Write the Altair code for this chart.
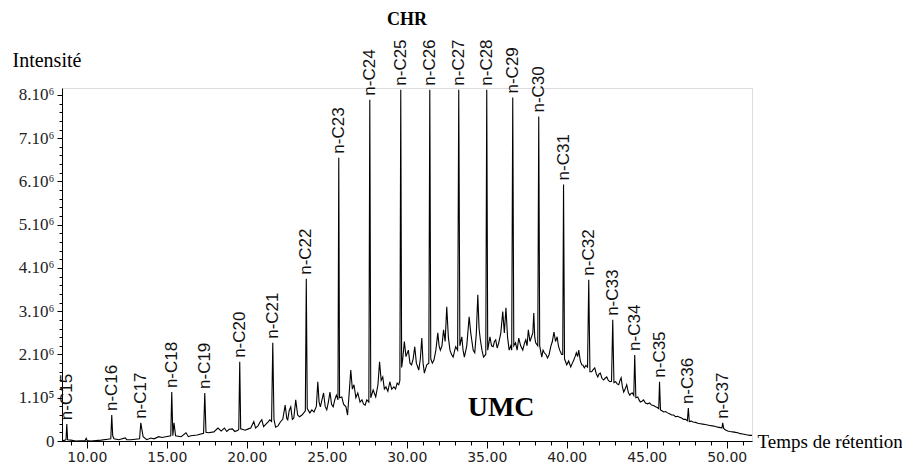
import altair as alt
import pandas as pd

# Retention time (min) and intensity (millions of counts)
times = [
    8.45, 8.63, 8.70, 8.75, 8.80, 9.0, 9.31, 9.9, 9.96, 10.02, 10.25, 10.9, 11.3, 11.5, 11.56, 11.62, 11.7,
    12.0, 12.4, 12.5, 12.75, 13.3, 13.375, 13.45, 13.52, 13.75, 14.0, 14.2, 14.5, 14.7, 14.94,
    15.25, 15.31, 15.38, 15.45, 15.55, 15.9, 16.2, 16.35, 16.5, 16.9, 17.3, 17.375, 17.45, 17.6, 17.94,
    18.2, 18.4, 18.6, 18.75, 18.9, 19.1, 19.25, 19.45, 19.5, 19.56, 19.62, 19.9, 20.1, 20.25, 20.44,
    20.55, 20.7, 20.85, 20.94, 21.05, 21.2, 21.35, 21.44, 21.55, 21.625, 21.7, 21.8, 21.95, 22.1, 22.25,
    22.4, 22.5, 22.56, 22.65, 22.75, 22.85, 22.94, 23.06, 23.18, 23.3, 23.45, 23.56, 23.66, 23.72, 23.78,
    23.94, 24.07, 24.2, 24.35, 24.44, 24.52, 24.6, 24.7, 24.8, 24.9, 25.0, 25.1, 25.2, 25.3, 25.4, 25.5,
    25.6, 25.7, 25.75, 25.8, 25.94, 26.05, 26.2, 26.3, 26.4, 26.5, 26.6, 26.7, 26.82, 26.94, 27.08, 27.2,
    27.3, 27.4, 27.5, 27.63, 27.69, 27.75, 27.9, 28.06, 28.2, 28.3, 28.4, 28.5, 28.6, 28.7, 28.82, 28.94,
    29.06, 29.2, 29.3, 29.4, 29.5, 29.57, 29.625, 29.68, 29.75, 29.85, 29.95, 30.1, 30.2, 30.3, 30.4,
    30.5, 30.6, 30.75, 30.85, 30.94, 31.02, 31.1, 31.25, 31.38, 31.44, 31.5, 31.6, 31.7, 31.82, 31.94,
    32.02, 32.1, 32.2, 32.3, 32.4, 32.5, 32.6, 32.7, 32.8, 32.9, 33.0, 33.06, 33.18, 33.25, 33.32, 33.44,
    33.52, 33.6, 33.75, 33.9, 34.0, 34.06, 34.15, 34.25, 34.35, 34.44, 34.52, 34.6, 34.7, 34.8, 34.94,
    35.0, 35.06, 35.2, 35.3, 35.4, 35.48, 35.56, 35.65, 35.75, 35.88, 36.0, 36.1, 36.2, 36.3, 36.4, 36.5,
    36.56, 36.625, 36.69, 36.8, 36.9, 37.0, 37.12, 37.25, 37.35, 37.44, 37.52, 37.6, 37.7, 37.8, 37.88,
    37.94, 38.0, 38.06, 38.19, 38.25, 38.31, 38.44, 38.52, 38.6, 38.7, 38.8, 38.9, 39.0, 39.1, 39.2, 39.3,
    39.4, 39.48, 39.56, 39.68, 39.75, 39.8, 39.86, 40.0, 40.12, 40.25, 40.35, 40.44, 40.52, 40.6, 40.68,
    40.75, 40.85, 40.94, 41.02, 41.1, 41.2, 41.3, 41.375, 41.45, 41.56, 41.65, 41.75, 41.85, 41.94, 42.02,
    42.1, 42.2, 42.3, 42.4, 42.5, 42.6, 42.7, 42.8, 42.875, 42.95, 43.06, 43.15, 43.25, 43.33, 43.4, 43.48,
    43.56, 43.65, 43.75, 43.85, 43.94, 44.02, 44.1, 44.19, 44.25, 44.32, 44.44, 44.52, 44.6, 44.7, 44.8,
    44.92, 45.06, 45.18, 45.3, 45.42, 45.56, 45.68, 45.75, 45.8, 45.86, 45.95, 46.06, 46.18, 46.3, 46.42,
    46.56, 46.68, 46.8, 46.92, 47.06, 47.18, 47.3, 47.42, 47.54, 47.6, 47.66, 47.78, 47.9, 48.05, 48.2,
    48.35, 48.5, 48.65, 48.8, 48.95, 49.1, 49.25, 49.44, 49.6, 49.7, 49.75, 49.81, 49.9, 50.06, 50.2,
    50.375, 50.55, 50.7, 50.85, 51.0, 51.15, 51.3, 51.45, 51.58,
]
intensity = [
    0.0, 0.02, 0.03, 0.39, 0.03, 0.02, 0.0, 0.01, 0.06, 0.01, 0.0, 0.02, 0.04, 0.05, 0.6, 0.12, 0.05,
    0.03, 0.07, 0.03, 0.03, 0.05, 0.42, 0.25, 0.1, 0.03, 0.07, 0.05, 0.1, 0.08, 0.1,
    0.12, 1.13, 0.12, 0.42, 0.12, 0.1, 0.19, 0.1, 0.12, 0.14, 0.18, 1.11, 0.2, 0.19, 0.21,
    0.3, 0.23, 0.3, 0.22, 0.27, 0.28, 0.22, 0.25, 0.27, 1.83, 0.28, 0.25, 0.28, 0.3, 0.45,
    0.3, 0.35, 0.45, 0.49, 0.33, 0.39, 0.45, 0.49, 0.45, 2.27, 0.5, 0.32, 0.35, 0.44, 0.5,
    0.83, 0.52, 0.49, 0.7, 0.79, 0.5, 0.53, 0.95, 0.6, 0.56, 0.6, 0.65, 0.7, 3.75, 0.75,
    0.65, 0.72, 0.67, 0.8, 1.37, 0.9, 0.79, 0.95, 1.11, 0.8, 0.72, 0.9, 1.13, 0.85, 0.79, 0.95,
    1.06, 0.95, 6.55, 1.0, 1.02, 0.85, 0.79, 0.6, 1.1, 1.64, 1.2, 1.3, 1.0, 1.11, 0.9, 0.95,
    0.85, 0.83, 0.95, 0.9, 7.89, 1.0, 1.18, 1.02, 1.3, 1.83, 1.4, 1.48, 1.2, 1.25, 1.15, 1.37,
    1.2, 1.25, 1.2, 1.34, 1.3, 1.4, 8.12, 1.7, 1.9, 2.3, 1.95, 2.1, 1.8, 1.76, 1.9,
    2.18, 1.8, 1.64, 1.9, 2.38, 1.8, 1.57, 1.76, 1.8, 8.12, 1.9, 1.8, 1.87, 2.1, 2.5,
    2.2, 2.1, 2.2, 2.57, 2.3, 3.1, 2.4, 2.1, 2.0, 1.94, 2.1, 2.18, 2.1, 8.12, 2.2, 2.41,
    2.1, 1.94, 2.2, 2.87, 2.5, 2.34, 2.1, 2.04, 2.5, 3.38, 2.6, 2.34, 2.1, 1.94, 2.0,
    8.12, 2.1, 2.41, 2.2, 2.18, 2.3, 2.34, 2.15, 2.27, 2.5, 2.99, 2.5, 3.08, 2.4, 2.1, 2.2,
    2.1, 7.94, 2.2, 2.27, 2.1, 2.38, 2.2, 2.1, 2.25, 2.34, 2.2, 2.57, 2.3, 2.41, 2.5,
    2.96, 2.4, 2.27, 2.2, 7.5, 2.2, 1.94, 2.1, 2.04, 2.0, 1.92, 2.0, 2.18, 2.3, 2.52, 2.3,
    2.41, 2.2, 2.1, 2.0, 2.0, 5.93, 1.9, 1.76, 1.85, 1.71, 1.8, 1.87, 1.95, 2.04, 1.95,
    2.1, 1.85, 1.76, 1.75, 1.69, 1.75, 1.71, 3.73, 1.6, 1.6, 1.65, 1.69, 1.55, 1.48, 1.55,
    1.57, 1.45, 1.41, 1.45, 1.48, 1.4, 1.37, 1.38, 2.8, 1.35, 1.37, 1.32, 1.3, 1.4, 1.46, 1.25,
    1.13, 1.2, 1.3, 1.12, 1.06, 1.1, 1.11, 1.05, 1.99, 1.0, 1.02, 0.95, 0.9, 0.92, 0.95,
    0.88, 0.86, 0.88, 0.83, 0.82, 0.79, 0.77, 0.75, 1.37, 0.72, 0.7, 0.67, 0.68, 0.65, 0.63,
    0.6, 0.6, 0.56, 0.57, 0.55, 0.53, 0.5, 0.5, 0.47, 0.76, 0.45, 0.46, 0.44, 0.43, 0.41,
    0.4, 0.39, 0.38, 0.37, 0.36, 0.35, 0.34, 0.32, 0.31, 0.3, 0.42, 0.29, 0.26, 0.23, 0.22,
    0.21, 0.2, 0.19, 0.17, 0.16, 0.15, 0.14, 0.13, 0.13,
]

# n-alkane peaks (labels)
peak_names = ["n-C15", "n-C16", "n-C17", "n-C18", "n-C19", "n-C20", "n-C21", "n-C22", "n-C23",
              "n-C24", "n-C25", "n-C26", "n-C27", "n-C28", "n-C29", "n-C30", "n-C31", "n-C32",
              "n-C33", "n-C34", "n-C35", "n-C36", "n-C37"]
peak_times = [8.75, 11.56, 13.375, 15.31, 17.375, 19.56, 21.625, 23.72, 25.75, 27.69, 29.625, 31.44,
              33.25, 35.0, 36.625, 38.25, 39.8, 41.375, 42.875, 44.25, 45.8, 47.6, 49.75]
peak_heights = [0.39, 0.6, 0.42, 1.13, 1.11, 1.83, 2.27, 3.75, 6.55, 7.89, 8.12, 8.12, 8.12, 8.12,
                7.94, 7.5, 5.93, 3.73, 2.8, 1.99, 1.37, 0.76, 0.42]

# Hump annotation
hump_label = ["UMC"]
hump_time = [35.9]
hump_value = [0.76]

# Axis ticks
x_minor = list(range(9, 52))
x_major = [10, 15, 20, 25, 30, 35, 40, 45, 50]
y_minor = [i / 5 for i in range(41)]
y_major = [0, 1, 2, 3, 4, 5, 6, 7, 8]
y_major_labels = ["0", "1.10⁵", "2.10⁶", "3.10⁶", "4.10⁶", "5.10⁶", "6.10⁶", "7.10⁶", "8.10⁶"]

trace = pd.DataFrame({"t": times, "v": intensity})
peaks = pd.DataFrame({"name": peak_names, "t": peak_times, "v": peak_heights})
hump = pd.DataFrame({"name": hump_label, "t": hump_time, "v": hump_value})

x_scale = alt.Scale(domain=[8.45, 51.58], nice=False, zero=False)
y_scale = alt.Scale(domain=[0, 8.16], nice=False)

common = dict(tickColor="black", domainColor="black", tickWidth=1, domainWidth=1, grid=False,
              labelOverlap=False, labelFlush=False, labelBound=False)

y_label_expr = " : ".join(
    [f"datum.value == {v} ? '{s}'" for v, s in zip(y_major, y_major_labels)]) + " : ''"

# minor-tick axes (drawn by the trace layer)
x_axis_minor = alt.Axis(values=x_minor, tickSize=4, labels=False, title=None, domain=True,
                        orient="bottom", **common)
y_axis_minor = alt.Axis(values=y_minor, tickSize=3, labels=False, title=None, domain=True,
                        orient="left", **common)

# major-tick axes with labels (drawn by the label layer)
x_axis_major = alt.Axis(
    values=x_major, tickSize=7, orient="bottom", domain=False,
    labelExpr="format(datum.value, '.2f')",
    labelFont="DejaVu Sans", labelFontSize=14, labelColor="#222", labelPadding=2,
    title="Temps de rétention", titleFont="Liberation Serif", titleFontSize=19,
    titleFontWeight="normal", titleColor="black", titleAlign="left", titleBaseline="middle",
    titleX=695, titleY=0, titleAngle=0, **common,
)
y_axis_major = alt.Axis(
    values=y_major, tickSize=5, orient="left", domain=False,
    labelExpr=y_label_expr,
    labelFont="Liberation Serif", labelFontSize=17, labelColor="#222", labelPadding=3,
    title="Intensité", titleFont="Liberation Serif", titleFontSize=20,
    titleFontWeight="normal", titleColor="black", titleAlign="left", titleBaseline="middle",
    titleAngle=0, titleX=-50, titleY=-28, **common,
)

line = alt.Chart(trace).mark_line(color="black", strokeWidth=1.1).encode(
    x=alt.X("t:Q", scale=x_scale, axis=x_axis_minor),
    y=alt.Y("v:Q", scale=y_scale, axis=y_axis_minor),
    order="t:Q",
)

labels = alt.Chart(peaks).mark_text(
    angle=270, align="left", baseline="middle", dx=4, font="Liberation Sans", fontSize=17,
    color="#111",
).encode(
    x=alt.X("t:Q", scale=x_scale, axis=x_axis_major),
    y=alt.Y("v:Q", scale=y_scale, axis=y_axis_major),
    text="name:N",
)

umc = alt.Chart(hump).mark_text(
    align="center", baseline="middle", font="Liberation Serif", fontSize=28, fontWeight="bold",
    color="black",
).encode(
    x=alt.X("t:Q", scale=x_scale, axis=None),
    y=alt.Y("v:Q", scale=y_scale, axis=None),
    text="name:N",
)

chart = alt.layer(line, labels, umc).resolve_axis(x="independent", y="independent").properties(
    width=690, height=353,
    padding={"left": 54, "top": 80, "right": 150, "bottom": 22},
    autosize=alt.AutoSizeParams(type="none"),
    title=alt.TitleParams("CHR", font="Liberation Serif", fontSize=18, fontWeight="bold",
                          color="black", anchor="middle", frame="group", offset=10),
).configure_view(stroke=None).configure(background="white")

chart.save("out.html", embed_options={"renderer": "svg", "actions": False})
